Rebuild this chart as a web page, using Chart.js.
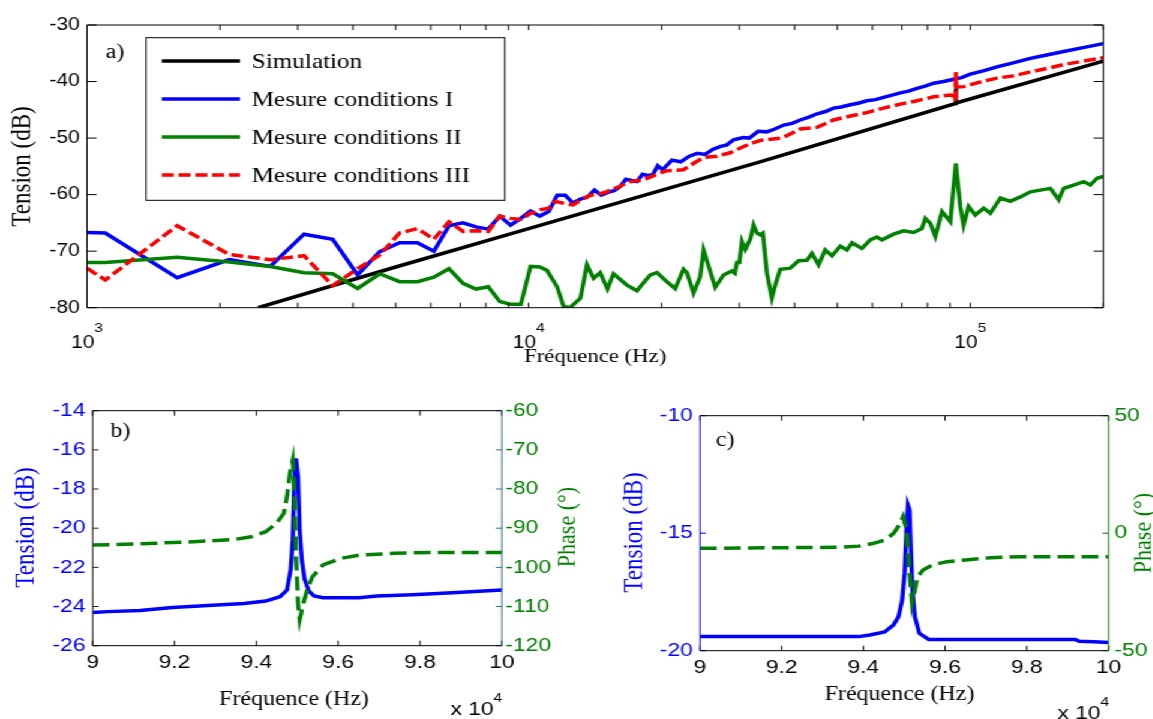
<!DOCTYPE html>
<html>
<head>
<meta charset="utf-8">
<script src="https://cdn.jsdelivr.net/npm/chart.js@4.4.1/dist/chart.umd.min.js"></script>
<style>
  html, body { margin: 0; padding: 0; background: #fff; overflow: hidden; }
  /* the original figure is stretched horizontally, so the whole stage is too */
  #stage { position: absolute; left: 0; top: 0; width: 961px; height: 719px; transform: scaleX(1.2); transform-origin: 0 0; }
  #stage canvas { position: absolute; }
</style>
</head>
<body>
<div id="stage">
  <canvas id="chartA" width="961" height="372" style="left:0;top:0;width:961px;height:372px"></canvas>
  <canvas id="chartB" width="490" height="339" style="left:0;top:380px;width:490px;height:339px"></canvas>
  <canvas id="chartC" width="461" height="339" style="left:500px;top:380px;width:461px;height:339px"></canvas>
</div>
<script>
const SERIF = '"Liberation Serif", "Times New Roman", serif';
const SANS = '"Liberation Sans", Arial, sans-serif';
const BLUE = '#0000ff', GREEN = '#008000', RED = '#ff0000', BLACK = '#000000';

// ---- a) Tension vs fréquence (Hz, dB)
const decadeTicks = [1e3, 1e4, 1e5];

const simFreq = [2440, 5000, 10000, 33400, 92500, 92700, 92900, 200000];
const simTension = [-80.0, -72.8, -66.0, -54.2, -43.9, -40.0, -43.8, -36.4];

const freqI = [1000,1100,1600,2100,2600,3100,3600,4100,4600,5100,5600,6100,6600,7100,7600,8100,8600,9100,9600,10100,
  10600,11100,11600,12100,12600,13100,13600,14100,14600,15100,15600,16100,16600,17100,17600,18100,18600,19100,19600,20100,
  21100,22100,23100,24100,25100,26100,27100,28100,29100,
  30600,31600,33100,34600,36100,37800,39500,41200,43100,45000,47000,49000,51000,53500,56000,58300,61000,63600,66500,69400,
  72500,75700,79000,82600,87000,91700,95500,100000,107000,114900,125000,136700,149000,162700,180000,200000];
const tensionI = [-66.7,-66.8,-74.7,-71.5,-72.7,-67.0,-67.9,-74.2,-70.1,-68.5,-68.5,-70.0,-65.5,-65.0,-65.7,-66.1,-63.8,-65.4,-64.2,-62.9,
  -63.8,-63.0,-60.1,-60.1,-61.5,-60.8,-60.4,-59.2,-60.1,-59.6,-59.3,-58.6,-57.3,-57.5,-57.7,-56.4,-56.6,-56.5,-54.9,-55.6,
  -53.9,-54.2,-53.2,-52.7,-52.9,-52.0,-51.5,-51.2,-50.3,
  -49.9,-50.0,-48.8,-48.9,-48.4,-47.7,-47.4,-46.8,-46.3,-45.7,-45.3,-44.7,-44.5,-44.1,-43.8,-43.4,-43.2,-42.8,-42.4,-42.0,
  -41.7,-41.2,-40.8,-40.3,-40.0,-39.6,-39.3,-38.7,-38.1,-37.4,-36.7,-35.9,-35.3,-34.7,-34.0,-33.3];

const freqII = [1000,1100,1600,2100,2600,3100,3600,4100,4600,5100,5600,6100,6600,7100,7600,8100,8600,9100,9600,10100,
  10600,11000,11600,12000,12400,13100,13550,14030,14520,15080,
  15560,16690,17590,18200,18850,19520,20560,21470,22420,22820,
  23620,24460,24890,26450,27620,28850,29300,29620,30000,30400,
  30930,31750,32300,32880,33450,33900,34640,35540,36160,37120,
  39120,40830,42670,43790,45330,46930,48620,50770,52550,53950,
  56840,59350,61440,63090,67030,70620,74380,77700,79070,81180,
  83320,86270,90100,92700,94900,96560,99100,102600,107200,111000,
  117000,123200,129800,136800,144100,151800,158500,162700,171400,180600,
  187000,193600,200000];
const tensionII = [-72.0,-72.0,-71.1,-71.9,-72.7,-73.8,-74.0,-76.6,-74.0,-75.4,-75.4,-74.6,-73.1,-75.7,-76.7,-76.3,-78.9,-79.4,-79.4,-72.7,
  -72.8,-73.4,-76.3,-79.8,-80.0,-78.3,-72.4,-74.8,-73.8,-76.7,
  -74.0,-76.0,-77.0,-75.6,-74.2,-73.8,-75.4,-76.6,-73.2,-73.8,
  -77.4,-74.5,-69.8,-76.4,-74.2,-73.5,-73.9,-72.0,-72.0,-68.3,
  -69.7,-67.9,-65.4,-66.8,-67.1,-66.8,-73.9,-78.3,-76.0,-73.2,
  -73.0,-71.7,-71.6,-70.4,-72.4,-69.8,-70.8,-69.1,-69.8,-68.5,
  -69.5,-68.0,-67.5,-68.0,-67.0,-66.4,-66.7,-66.0,-64.2,-65.1,
  -67.4,-63.0,-64.8,-54.5,-62.1,-65.4,-62.1,-63.6,-62.4,-63.3,
  -60.6,-61.2,-60.4,-59.5,-59.2,-58.9,-60.9,-58.9,-58.3,-57.7,
  -58.3,-57.1,-56.8];

const freqIII = [1000,1100,1600,2100,2600,3100,3600,4100,4600,5100,5600,6100,6600,7100,7600,8100,8600,9100,9600,10100,
  10600,11100,11500,12100,12600,13100,13800,14400,15000,16000,
  17000,18200,19500,20500,22400,23600,24900,26700,28600,30700,
  31700,33500,37400,41200,45000,49000,53500,58300,63600,69400,
  75700,82600,90100,92300,92500,92700,92900,96600,105000,114900,
  125000,136700,149000,162700,180000,200000];
const tensionIII = [-73.0,-75.1,-65.5,-70.6,-71.5,-70.8,-76.1,-73.1,-70.7,-66.8,-66.0,-67.9,-64.8,-66.5,-66.4,-66.5,-63.8,-64.2,-64.4,-63.3,
  -62.7,-62.4,-61.2,-61.6,-61.8,-61.0,-60.1,-59.9,-59.5,-58.6,
  -57.7,-57.4,-56.4,-55.8,-55.6,-54.5,-53.4,-53.2,-52.6,-51.5,
  -51.0,-50.4,-50.0,-48.4,-48.1,-46.8,-46.1,-45.5,-44.7,-44.0,
  -43.4,-42.7,-42.4,-42.6,-43.4,-38.3,-41.0,-40.9,-40.1,-39.4,
  -39.0,-38.3,-37.7,-37.0,-36.4,-35.8];

// ---- b) zoom autour de la résonance (fréquence en x 10^4 Hz)
const freqB = [9.0,9.037,9.116,9.195,9.282,9.370,9.423,9.458,9.475,9.484,9.489,9.493,9.497,9.502,9.506,9.511,9.518,9.528,9.541,9.563,9.651,9.695,9.782,9.879,9.967,10.0];
const tensionB = [-24.3,-24.26,-24.2,-24.05,-23.95,-23.85,-23.72,-23.5,-23.16,-22.1,-20.6,-17.4,-16.43,-17.4,-20.1,-21.6,-22.6,-23.2,-23.46,-23.55,-23.55,-23.46,-23.4,-23.3,-23.2,-23.16];
const freqBPhase = [9.0,9.116,9.256,9.344,9.388,9.423,9.449,9.467,9.475,9.482,9.489,9.493,9.497,9.502,9.506,9.515,9.524,9.537,9.563,9.607,9.651,9.739,9.826,10.0];
const phaseB = [-94.3,-94.0,-93.4,-92.9,-92.2,-90.9,-88.8,-86.2,-82.0,-76.0,-72.6,-80.3,-97.3,-109.2,-113.4,-109.2,-105.8,-102.4,-99.4,-97.7,-96.9,-96.4,-96.2,-96.2];

// ---- c)
const freqC = [9.0,9.389,9.416,9.452,9.474,9.486,9.495,9.501,9.506,9.509,9.513,9.517,9.520,9.526,9.537,9.560,9.919,9.928,9.964,10.0];
const tensionC = [-19.4,-19.4,-19.33,-19.2,-18.9,-18.55,-17.84,-16.7,-14.6,-13.8,-14.0,-16.0,-17.4,-18.55,-19.26,-19.52,-19.52,-19.6,-19.62,-19.65];
const freqCPhase = [9.0,9.335,9.389,9.425,9.452,9.474,9.488,9.497,9.506,9.510,9.515,9.519,9.526,9.533,9.546,9.569,9.605,9.650,9.712,9.784,10.0];
const phaseC = [-6.45,-6.0,-5.5,-4.3,-2.9,-0.1,3.5,7.0,1.3,-10.0,-21.3,-29.9,-24.2,-18.5,-15.7,-13.5,-12.1,-11.4,-10.4,-10.0,-10.0];

function pts(xs, ys) {
    return xs.map((x, i) => ({ x: x, y: ys[i] }));
}

// cadre + graduations intérieures (style MATLAB)
const framePlugin = {
    id: 'frame',
    afterDatasetsDraw(chart, args, o) {
        const ctx = chart.ctx, a = chart.chartArea;
        const xs = chart.scales.x, yl = chart.scales.y, yr = chart.scales.y1;
        ctx.save();
        ctx.lineWidth = 1;
        const seg = (x0, y0, x1, y1, c) => {
            ctx.strokeStyle = c;
            ctx.beginPath(); ctx.moveTo(x0, y0); ctx.lineTo(x1, y1); ctx.stroke();
        };
        const xv = o.xTicks || xs.ticks.map(t => t.value);
        xv.forEach(v => {
            const p = xs.getPixelForValue(v);
            seg(p, a.bottom, p, a.bottom - o.tx, BLACK);
            seg(p, a.top, p, a.top + o.tx, BLACK);
        });
        yl.ticks.forEach(t => {
            const p = yl.getPixelForValue(t.value);
            seg(a.left, p, a.left + o.ty, p, o.left);
            if (!yr) seg(a.right, p, a.right - o.ty, p, o.right);
        });
        if (yr) {
            yr.ticks.forEach(t => {
                const p = yr.getPixelForValue(t.value);
                seg(a.right, p, a.right - o.ty, p, o.right);
            });
        }
        seg(a.left, a.top, a.right, a.top, BLACK);
        seg(a.left, a.bottom, a.right, a.bottom, BLACK);
        seg(a.left, a.top, a.left, a.bottom, o.left);
        seg(a.right, a.top, a.right, a.bottom, o.right);
        ctx.restore();
    }
};

// textes libres : titres d'axes, étiquettes a) b) c), x 10^4
const textPlugin = {
    id: 'texts',
    afterDraw(chart, args, o) {
        const ctx = chart.ctx;
        (o.items || []).forEach(it => {
            ctx.save();
            ctx.translate(it.x, it.y);
            if (it.rot) ctx.rotate(it.rot);
            ctx.fillStyle = it.color || BLACK;
            ctx.font = it.size + 'px ' + (it.family || SERIF);
            ctx.textAlign = it.align || 'center';
            ctx.textBaseline = it.baseline || 'middle';
            ctx.fillText(it.text, 0, 0);
            if (it.sup) {
                const w = ctx.measureText(it.text).width;
                ctx.font = it.supSize + 'px ' + (it.family || SERIF);
                ctx.textAlign = 'left';
                ctx.fillText(it.sup, w, -it.supRaise);
            }
            ctx.restore();
        });
        // étiquettes 10^n de l'axe log
        if (o.decades) {
            const xs = chart.scales.x, d = o.decades;
            ctx.save();
            ctx.fillStyle = BLACK;
            ctx.textBaseline = 'alphabetic';
            ctx.textAlign = 'left';
            d.values.forEach(v => {
                const p = xs.getPixelForValue(v);
                const exp = String(Math.round(Math.log10(v)));
                ctx.font = d.size + 'px ' + SANS;
                const w1 = ctx.measureText('10').width;
                ctx.font = d.supSize + 'px ' + SANS;
                const w2 = ctx.measureText(exp).width;
                const x0 = p - (w1 + w2) / 2;
                ctx.font = d.size + 'px ' + SANS;
                ctx.fillText('10', x0, d.y);
                ctx.font = d.supSize + 'px ' + SANS;
                ctx.fillText(exp, x0 + w1, d.y - d.raise);
            });
            ctx.restore();
        }
    }
};

// légende encadrée dans le graphe a)
const legendBox = {
    id: 'legendBox',
    afterDraw(chart, args, o) {
        if (!o.box) return;
        const ctx = chart.ctx, b = o.box;
        ctx.save();
        ctx.fillStyle = '#fff';
        ctx.fillRect(b.x, b.y, b.w, b.h);
        ctx.strokeStyle = BLACK;
        ctx.lineWidth = 1;
        ctx.strokeRect(b.x, b.y, b.w, b.h);
        chart.data.datasets.forEach((ds, i) => {
            const y = b.y + o.firstRow + i * o.rowGap;
            ctx.strokeStyle = ds.borderColor;
            ctx.lineWidth = ds.borderWidth;
            ctx.setLineDash(ds.borderDash || []);
            ctx.beginPath(); ctx.moveTo(o.lineX0, y); ctx.lineTo(o.lineX1, y); ctx.stroke();
            ctx.setLineDash([]);
            ctx.fillStyle = BLACK;
            ctx.font = o.size + 'px ' + SERIF;
            ctx.textAlign = 'left';
            ctx.textBaseline = 'middle';
            ctx.fillText(ds.label, o.textX, y + 1);
        });
        ctx.restore();
    }
};

const hidden = { display: false, drawTicks: false };
const common = {
    responsive: false,
    animation: false,
    events: [],
    elements: { point: { radius: 0 }, line: { tension: 0 } }
};

// ---- graphe a)
const minorTicks = [];
decadeTicks.forEach(d => { for (let m = 1; m <= 9; m++) if (m * d <= 200000) minorTicks.push(m * d); });
minorTicks.push(200000);

new Chart(document.getElementById('chartA'), {
    type: 'line',
    data: {
        datasets: [
            { label: 'Simulation', data: pts(simFreq, simTension), borderColor: BLACK, borderWidth: 3.5, order: 4 },
            { label: 'Mesure conditions I', data: pts(freqI, tensionI), borderColor: BLUE, borderWidth: 3.5, order: 3 },
            { label: 'Mesure conditions II', data: pts(freqII, tensionII), borderColor: GREEN, borderWidth: 3.5, order: 2 },
            { label: 'Mesure conditions III', data: pts(freqIII, tensionIII), borderColor: RED, borderWidth: 3.5, borderDash: [10, 4], order: 1 }
        ]
    },
    options: Object.assign({}, common, {
        layout: { padding: { top: 25, right: 41.6, left: 0, bottom: 0 } },
        plugins: {
            legend: { display: false },
            tooltip: { enabled: false },
            frame: { xTicks: minorTicks, tx: 5, ty: 8, left: BLACK, right: BLACK },
            legendBox: {
                box: { x: 121.7, y: 37.7, w: 299, h: 162.6 },
                firstRow: 23.3, rowGap: 38, lineX0: 134.8, lineX1: 200, textX: 209.7, size: 21
            },
            texts: {
                items: [
                    { text: 'a)', x: 88, y: 58, size: 20, align: 'left', baseline: 'alphabetic' },
                    { text: 'Tension (dB)', x: 19.2, y: 166.5, size: 23, rot: -Math.PI / 2 },
                    { text: 'Fréquence (Hz)', x: 496, y: 362, size: 19, baseline: 'alphabetic' }
                ],
                decades: { values: decadeTicks, y: 348, size: 17.5, supSize: 13, raise: 16 }
            }
        },
        scales: {
            x: {
                type: 'logarithmic', min: 1000, max: 200000,
                grid: hidden, border: { display: false }, ticks: { display: false },
                afterFit: s => { s.height = 64.3; }
            },
            y: {
                min: -80, max: -30,
                grid: hidden, border: { display: false },
                ticks: { stepSize: 10, color: BLACK, padding: 6, font: { family: SANS, size: 17.5 } },
                afterFit: s => { s.width = 72.5; }
            }
        }
    }),
    plugins: [framePlugin, legendBox, textPlugin]
});

// ---- graphes b) et c) : tension (gauche) + phase (droite)
function zoomChart(id, cfg) {
    return new Chart(document.getElementById(id), {
        type: 'line',
        data: {
            datasets: [
                { label: 'Tension', data: pts(cfg.freq, cfg.tension), borderColor: BLUE, borderWidth: 3.5, yAxisID: 'y', order: 2 },
                { label: 'Phase', data: pts(cfg.freqPhase, cfg.phase), borderColor: GREEN, borderWidth: 3.5, borderDash: [14, 6], yAxisID: 'y1', order: 1 }
            ]
        },
        options: Object.assign({}, common, {
            layout: { padding: { top: cfg.top, right: 0, left: 0, bottom: 0 } },
            plugins: {
                legend: { display: false },
                tooltip: { enabled: false },
                frame: { tx: 5, ty: 5, left: cfg.leftColor, right: cfg.rightColor },
                texts: { items: cfg.texts }
            },
            scales: {
                x: {
                    type: 'linear', min: 9, max: 10,
                    grid: hidden, border: { display: false },
                    ticks: { stepSize: 0.2, color: BLACK, padding: 6, font: { family: SANS, size: 19 },
                        callback: v => String(Math.round(v * 10) / 10) },
                    afterFit: s => { s.height = cfg.xh; }
                },
                y: {
                    position: 'left', min: cfg.yMin, max: cfg.yMax,
                    grid: hidden, border: { display: false },
                    ticks: { stepSize: cfg.yStep, color: BLUE, padding: 6, font: { family: SANS, size: 19 } },
                    afterFit: s => { s.width = cfg.yw; }
                },
                y1: {
                    position: 'right', min: cfg.pMin, max: cfg.pMax,
                    grid: hidden, border: { display: false },
                    ticks: { stepSize: cfg.pStep, color: GREEN, padding: cfg.rpad, font: { family: SANS, size: 19 } },
                    afterFit: s => { s.width = cfg.y1w; }
                }
            }
        }),
        plugins: [framePlugin, textPlugin]
    });
}

zoomChart('chartB', {
    freq: freqB, tension: tensionB, freqPhase: freqBPhase, phase: phaseB,
    yMin: -26, yMax: -14, yStep: 2, pMin: -120, pMax: -60, pStep: 10,
    top: 30.7, xh: 73.3, yw: 77.2, y1w: 71.8, rpad: 3,
    leftColor: '#202020', rightColor: '#2f6f8f',
    texts: [
        { text: 'b)', x: 92, y: 57, size: 20, align: 'left', baseline: 'alphabetic' },
        { text: 'Tension (dB)', x: 22.4, y: 147.5, size: 23, rot: -Math.PI / 2, color: BLUE },
        { text: 'Phase (°)', x: 473, y: 147, size: 22, rot: -Math.PI / 2, color: GREEN },
        { text: 'Fréquence (Hz)', x: 245, y: 324.7, size: 20, baseline: 'alphabetic' },
        { text: 'x 10', x: 375.4, y: 335, size: 19, family: SANS, align: 'left', baseline: 'alphabetic', sup: '4', supSize: 13, supRaise: 13 }
    ]
});

zoomChart('chartC', {
    freq: freqC, tension: tensionC, freqPhase: freqCPhase, phase: phaseC,
    yMin: -20, yMax: -10, yStep: 5, pMin: -50, pMax: 50, pStep: 50,
    top: 35.7, xh: 68.3, yw: 83.3, y1w: 37.25, rpad: 5,
    leftColor: BLUE, rightColor: GREEN,
    texts: [
        { text: 'c)', x: 96.6, y: 66, size: 20, align: 'left', baseline: 'alphabetic' },
        { text: 'Tension (dB)', x: 29.2, y: 152.5, size: 23, rot: -Math.PI / 2, color: BLUE },
        { text: 'Phase (°)', x: 453.5, y: 153, size: 22, rot: -Math.PI / 2, color: GREEN },
        { text: 'Fréquence (Hz)', x: 249.6, y: 320, size: 20, baseline: 'alphabetic' },
        { text: 'x 10', x: 381.2, y: 339, size: 19, family: SANS, align: 'left', baseline: 'alphabetic', sup: '4', supSize: 13, supRaise: 13 }
    ]
});
</script>
</body>
</html>
